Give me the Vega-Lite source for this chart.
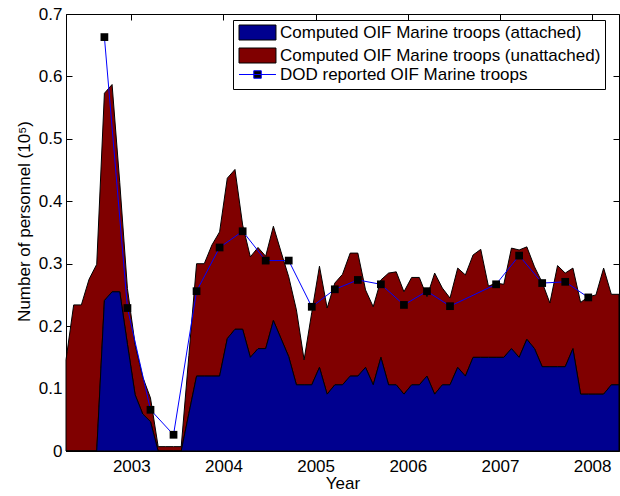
{
  "$schema": "https://vega.github.io/schema/vega-lite/v6.json",
  "width": 553,
  "height": 437,
  "autosize": {"type": "none"},
  "padding": {"left": 66, "top": 14, "right": 1, "bottom": 45},
  "background": "white",
  "config": {
    "view": {"stroke": "black", "strokeWidth": 1},
    "font": "Liberation Sans",
    "axis": {
      "labelFont": "Liberation Sans", "titleFont": "Liberation Sans",
      "labelFontSize": 17, "titleFontSize": 17,
      "labelColor": "black", "titleColor": "black", "titleFontWeight": "normal",
      "domainColor": "black", "tickColor": "black", "grid": false,
      "tickSize": -6, "tickWidth": 1
    },
    "legend": {
      "labelFont": "Liberation Sans", "labelFontSize": 17, "labelColor": "black", "labelLimit": 500,
      "titleFont": "Liberation Sans", "titleFontSize": 17, "titleFontWeight": "normal", "titleColor": "black",
      "padding": 4, "rowPadding": 4, "symbolSize": 225, "symbolOffset": 1, "labelOffset": 25,
      "symbolStrokeWidth": 1, "symbolOpacity": 1
    }
  },
  "datasets": {
    "m": [
      {"x": 2002.2917, "att": 0, "tot": 0.146},
      {"x": 2002.375, "att": 0, "tot": 0.234},
      {"x": 2002.4583, "att": 0, "tot": 0.234},
      {"x": 2002.5417, "att": 0, "tot": 0.275},
      {"x": 2002.625, "att": 0, "tot": 0.299},
      {"x": 2002.7083, "att": 0.241, "tot": 0.573},
      {"x": 2002.7917, "att": 0.255, "tot": 0.587},
      {"x": 2002.875, "att": 0.255, "tot": 0.43},
      {"x": 2002.9583, "att": 0.171, "tot": 0.26},
      {"x": 2003.0417, "att": 0.09, "tot": 0.17},
      {"x": 2003.125, "att": 0.059, "tot": 0.118},
      {"x": 2003.2083, "att": 0.047, "tot": 0.085},
      {"x": 2003.2917, "att": 0, "tot": 0.007},
      {"x": 2003.375, "att": 0, "tot": 0.007},
      {"x": 2003.4583, "att": 0, "tot": 0.007},
      {"x": 2003.5417, "att": 0, "tot": 0.007},
      {"x": 2003.625, "att": 0.06, "tot": 0.153},
      {"x": 2003.7083, "att": 0.12, "tot": 0.3},
      {"x": 2003.7917, "att": 0.12, "tot": 0.3},
      {"x": 2003.875, "att": 0.12, "tot": 0.33},
      {"x": 2003.9583, "att": 0.12, "tot": 0.351},
      {"x": 2004.0417, "att": 0.18, "tot": 0.437},
      {"x": 2004.125, "att": 0.195, "tot": 0.451},
      {"x": 2004.2083, "att": 0.195, "tot": 0.362},
      {"x": 2004.2917, "att": 0.15, "tot": 0.311},
      {"x": 2004.375, "att": 0.164, "tot": 0.326},
      {"x": 2004.4583, "att": 0.164, "tot": 0.312},
      {"x": 2004.5417, "att": 0.209, "tot": 0.36},
      {"x": 2004.625, "att": 0.18, "tot": 0.319},
      {"x": 2004.7083, "att": 0.151, "tot": 0.279},
      {"x": 2004.7917, "att": 0.106, "tot": 0.226},
      {"x": 2004.875, "att": 0.106, "tot": 0.146},
      {"x": 2004.9583, "att": 0.106, "tot": 0.222},
      {"x": 2005.0417, "att": 0.134, "tot": 0.296},
      {"x": 2005.125, "att": 0.091, "tot": 0.229},
      {"x": 2005.2083, "att": 0.106, "tot": 0.269},
      {"x": 2005.2917, "att": 0.106, "tot": 0.283},
      {"x": 2005.375, "att": 0.12, "tot": 0.317},
      {"x": 2005.4583, "att": 0.12, "tot": 0.317},
      {"x": 2005.5417, "att": 0.134, "tot": 0.258},
      {"x": 2005.625, "att": 0.106, "tot": 0.231},
      {"x": 2005.7083, "att": 0.15, "tot": 0.274},
      {"x": 2005.7917, "att": 0.106, "tot": 0.285},
      {"x": 2005.875, "att": 0.106, "tot": 0.287},
      {"x": 2005.9583, "att": 0.091, "tot": 0.255},
      {"x": 2006.0417, "att": 0.106, "tot": 0.278},
      {"x": 2006.125, "att": 0.106, "tot": 0.278},
      {"x": 2006.2083, "att": 0.12, "tot": 0.247},
      {"x": 2006.2917, "att": 0.091, "tot": 0.285},
      {"x": 2006.375, "att": 0.106, "tot": 0.261},
      {"x": 2006.4583, "att": 0.106, "tot": 0.245},
      {"x": 2006.5417, "att": 0.134, "tot": 0.293},
      {"x": 2006.625, "att": 0.12, "tot": 0.282},
      {"x": 2006.7083, "att": 0.15, "tot": 0.314},
      {"x": 2006.7917, "att": 0.15, "tot": 0.323},
      {"x": 2006.875, "att": 0.15, "tot": 0.264},
      {"x": 2006.9583, "att": 0.15, "tot": 0.269},
      {"x": 2007.0417, "att": 0.15, "tot": 0.267},
      {"x": 2007.125, "att": 0.164, "tot": 0.325},
      {"x": 2007.2083, "att": 0.15, "tot": 0.322},
      {"x": 2007.2917, "att": 0.179, "tot": 0.327},
      {"x": 2007.375, "att": 0.164, "tot": 0.295},
      {"x": 2007.4583, "att": 0.135, "tot": 0.27},
      {"x": 2007.5417, "att": 0.135, "tot": 0.237},
      {"x": 2007.625, "att": 0.135, "tot": 0.297},
      {"x": 2007.7083, "att": 0.135, "tot": 0.285},
      {"x": 2007.7917, "att": 0.164, "tot": 0.293},
      {"x": 2007.875, "att": 0.091, "tot": 0.238},
      {"x": 2007.9583, "att": 0.091, "tot": 0.247},
      {"x": 2008.0417, "att": 0.091, "tot": 0.25},
      {"x": 2008.125, "att": 0.091, "tot": 0.293},
      {"x": 2008.2083, "att": 0.106, "tot": 0.251},
      {"x": 2008.2917, "att": 0.106, "tot": 0.251}
    ],
    "d": [
      {"x": 2002.7083, "dod": 0.663},
      {"x": 2002.9583, "dod": 0.229},
      {"x": 2003.2083, "dod": 0.066},
      {"x": 2003.4583, "dod": 0.026},
      {"x": 2003.7083, "dod": 0.256},
      {"x": 2003.9583, "dod": 0.326},
      {"x": 2004.2083, "dod": 0.352},
      {"x": 2004.4583, "dod": 0.305},
      {"x": 2004.7083, "dod": 0.305},
      {"x": 2004.9583, "dod": 0.231},
      {"x": 2005.2083, "dod": 0.259},
      {"x": 2005.4583, "dod": 0.274},
      {"x": 2005.7083, "dod": 0.267},
      {"x": 2005.9583, "dod": 0.234},
      {"x": 2006.2083, "dod": 0.256},
      {"x": 2006.4583, "dod": 0.232},
      {"x": 2006.9583, "dod": 0.267},
      {"x": 2007.2083, "dod": 0.313},
      {"x": 2007.4583, "dod": 0.269},
      {"x": 2007.7083, "dod": 0.271},
      {"x": 2007.9583, "dod": 0.246}
    ]
  },
  "layer": [
    {
      "data": {"name": "m"},
      "mark": {"type": "area", "stroke": "black", "strokeWidth": 1, "opacity": 1},
      "encoding": {
        "x": {
          "field": "x", "type": "quantitative",
          "scale": {"domain": [2002.2917, 2008.2917], "nice": false, "zero": false},
          "axis": {"orient": "bottom", "values": [2003, 2004, 2005, 2006, 2007, 2008], "format": "d", "title": "Year", "labelPadding": 13, "titlePadding": 1, "labelFlush": false}
        },
        "y": {
          "field": "tot", "type": "quantitative",
          "scale": {"domain": [0, 0.7], "nice": false},
          "axis": {"orient": "left", "values": [0, 0.1, 0.2, 0.3, 0.4, 0.5, 0.6, 0.7], "format": ".1~f", "title": "Number of personnel (10⁵)", "labelPadding": 10, "titlePadding": 5, "titleY": 207}
        },
        "y2": {"field": "att"},
        "color": {
          "datum": "Computed OIF Marine troops (unattached)",
          "scale": {
            "domain": ["Computed OIF Marine troops (attached)", "Computed OIF Marine troops (unattached)"],
            "range": ["#00008f", "#800000"]
          },
          "legend": {
            "orient": "none", "legendX": 167, "legendY": 6,
            "title": " ", "titleOrient": "bottom", "titleAnchor": "start", "titlePadding": 4,
            "direction": "vertical",
            "fillColor": "white", "strokeColor": "black",
            "symbolType": "M-1,-1H3.93V1H-1Z",
            "symbolStrokeColor": "black"
          }
        }
      }
    },
    {
      "data": {"name": "m"},
      "mark": {"type": "area", "stroke": "black", "strokeWidth": 1, "opacity": 1},
      "encoding": {
        "x": {"field": "x", "type": "quantitative", "axis": null},
        "y": {"field": "att", "type": "quantitative", "stack": null, "axis": null},
        "color": {"datum": "Computed OIF Marine troops (attached)"}
      }
    },
    {
      "data": {"name": "d"},
      "mark": {"type": "line", "strokeWidth": 1},
      "encoding": {
        "x": {"field": "x", "type": "quantitative", "axis": null},
        "y": {"field": "dod", "type": "quantitative", "axis": null},
        "stroke": {
          "datum": "DOD reported OIF Marine troops",
          "scale": {"domain": ["DOD reported OIF Marine troops"], "range": ["#0000ff"]},
          "legend": {
            "orient": "none", "legendX": 167, "legendY": 48,
            "title": null, "direction": "vertical",
            "symbolType": "M-1,0H3.93M0.97,-0.5H1.97V0.5H0.97Z"
          }
        }
      }
    },
    {
      "data": {"name": "d"},
      "mark": {"type": "point", "shape": "square", "filled": true, "size": 60, "opacity": 1, "strokeWidth": 0},
      "encoding": {
        "x": {"field": "x", "type": "quantitative", "axis": {"orient": "top", "values": [2003, 2004, 2005, 2006, 2007, 2008], "labels": false, "title": null, "domain": false}},
        "y": {"field": "dod", "type": "quantitative", "axis": {"orient": "right", "values": [0, 0.1, 0.2, 0.3, 0.4, 0.5, 0.6, 0.7], "labels": false, "title": null, "domain": false}},
        "fill": {
          "datum": "DOD reported OIF Marine troops",
          "scale": {"domain": ["DOD reported OIF Marine troops"], "range": ["black"]},
          "legend": {
            "orient": "none", "legendX": 167, "legendY": 48,
            "title": null, "direction": "vertical",
            "symbolType": "M-1,0H3.93M0.97,-0.5H1.97V0.5H0.97Z"
          }
        }
      }
    }
  ],
  "resolve": {"axis": {"x": "independent", "y": "independent"}}
}
